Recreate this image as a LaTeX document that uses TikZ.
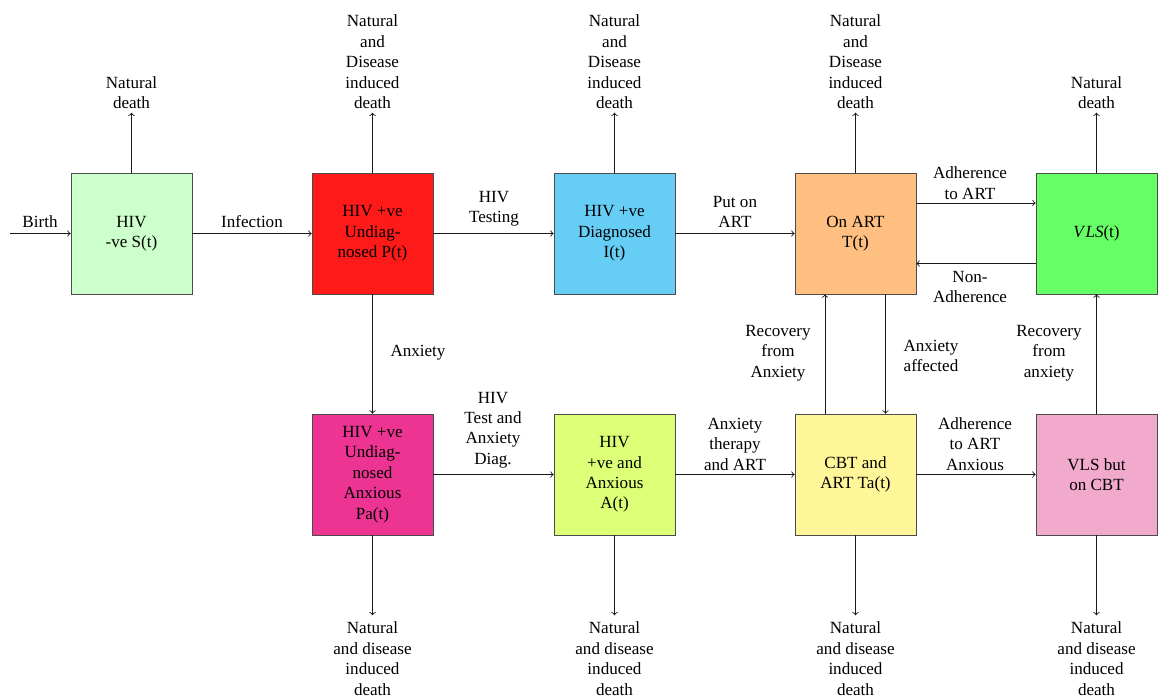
\documentclass[tikz,border=0pt]{standalone}
\usepackage{fontspec}
\setmainfont{Liberation Serif}
\usetikzlibrary{calc}
\definecolor{cS}{RGB}{204,255,204}
\definecolor{cP}{RGB}{255,26,26}
\definecolor{cI}{RGB}{102,206,245}
\definecolor{cT}{RGB}{255,191,128}
\definecolor{cV}{RGB}{102,255,102}
\definecolor{cPa}{RGB}{237,52,146}
\definecolor{cA}{RGB}{221,255,119}
\definecolor{cTa}{RGB}{255,245,153}
\definecolor{cVC}{RGB}{242,170,204}
\begin{document}
\begin{tikzpicture}[x=0.586pt,y=-0.586pt,
  comp/.style={draw=black!70,minimum width=70.9pt,minimum height=70.9pt,align=center,inner sep=1pt,font=\fontsize{10}{12}\selectfont},
  lbl/.style={align=center,inner sep=1pt,font=\fontsize{10}{12}\selectfont},
  flow/.style={->,black!90,line width=0.5pt}]
\useasboundingbox (0,0) rectangle (1158,698);
% compartments
\node[comp,fill=cS]  (S)  at (131.5,233.5) {HIV\\-ve S(t)};
\node[comp,fill=cP]  (P)  at (372.5,233.5) {HIV +ve\\Undiag-\\nosed P(t)};
\node[comp,fill=cI]  (I)  at (614.5,233.5) {HIV +ve\\Diagnosed\\I(t)};
\node[comp,fill=cT]  (T)  at (855.5,233.5) {On ART\\T(t)};
\node[comp,fill=cV]  (V)  at (1096.5,233.5) {\textit{V\kern1pt LS}(t)};
\node[comp,fill=cPa] (Pa) at (372.5,474.5) {HIV +ve\\Undiag-\\nosed\\Anxious\\Pa(t)};
\node[comp,fill=cA]  (A)  at (614.5,474.5) {HIV\\+ve and\\Anxious\\A(t)};
\node[comp,fill=cTa] (Ta) at (855.5,474.5) {CBT and\\ART Ta(t)};
\node[comp,fill=cVC] (VC) at (1096.5,474.5) {VLS but\\on CBT};
% birth
\coordinate (b0) at (10,233.5);
\draw[flow] (b0) -- (S.west);
\node[lbl] (lb) at (40,222) {Birth};
% top row flows
\draw[flow] (S) -- (P);
\node[lbl] (l1) at (252,222) {Infection};
\draw[flow] (P) -- (I);
\node[lbl] (l2) at (494,209) {HIV\\Testing};
\draw[flow] (I) -- (T);
\node[lbl] (l3) at (735,212) {Put on\\ART};
\draw[flow] ($(T.east)+(0,-30.5)$) -- ($(V.west)+(0,-30.5)$);
\node[lbl] (l4) at (970,183) {Adherence\\to ART};
\draw[flow] ($(V.west)+(0,30)$) -- ($(T.east)+(0,30)$);
\node[lbl] (l5) at (970,287) {Non-\\Adherence};
% verticals
\draw[flow] (P) -- (Pa);
\node[lbl] (l6) at (418,353) {Anxiety};
\draw[flow] ($(Ta.north)+(-30.5,0)$) -- ($(T.south)+(-30.5,0)$);
\node[lbl] (l7) at (778,353) {Recovery\\from\\Anxiety};
\draw[flow] ($(T.south)+(30,0)$) -- ($(Ta.north)+(30,0)$);
\node[lbl] (l8) at (931,356) {Anxiety\\affected};
\draw[flow] (VC) -- (V);
\node[lbl] (l9) at (1049,353) {Recovery\\from\\anxiety};
% bottom row flows
\draw[flow] (Pa) -- (A);
\node[lbl] (l10) at (493,430) {HIV\\Test and\\Anxiety\\Diag.};
\draw[flow] (A) -- (Ta);
\node[lbl] (l11) at (735,444) {Anxiety\\therapy\\and ART};
\draw[flow] (Ta) -- (VC);
\node[lbl] (l12) at (975,444) {Adherence\\to ART\\Anxious};
% deaths top
\foreach \n/\t in {S/{Natural\\death},P/{Natural\\and\\Disease\\induced\\death},I/{Natural\\and\\Disease\\induced\\death},T/{Natural\\and\\Disease\\induced\\death},V/{Natural\\death}}{
  \coordinate (d\n) at ($(\n.north)+(0,-60)$);
  \draw[flow] (\n.north) -- (d\n);
  \node[lbl,anchor=south,inner sep=2pt] (ld\n) at (d\n) {\t};
}
% deaths bottom
\foreach \n in {Pa,A,Ta,VC}{
  \coordinate (d\n) at ($(\n.south)+(0,80)$);
  \draw[flow] (\n.south) -- (d\n);
  \node[lbl,anchor=north,inner sep=2pt] (ld\n) at ($(d\n)+(0,3)$) {Natural\\and disease\\induced\\death};
}
\end{tikzpicture}
\end{document}
